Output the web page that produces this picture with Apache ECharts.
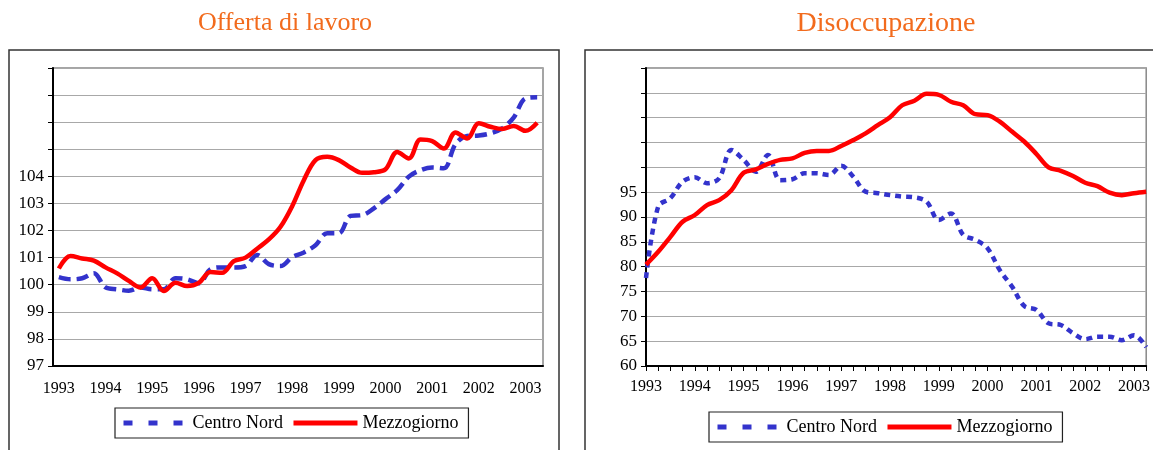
<!DOCTYPE html>
<html>
<head>
<meta charset="utf-8">
<script src="https://cdn.jsdelivr.net/npm/echarts@6/dist/echarts.min.js"></script>
<style>
    body { margin: 0; background: #fff; }
    .wrap { display: flex; width: 1153px; height: 450px; }
    #offerta { width: 576px; height: 450px; }
    #disocc { width: 577px; height: 450px; }
</style>
</head>
<body>
<div class="wrap">
    <div id="offerta"></div>
    <div id="disocc"></div>
</div>
<script>
// anni sull'asse x (dati trimestrali, 1993 T1 - 2003 T2)
const years = ["1993", "1994", "1995", "1996", "1997", "1998", "1999", "2000", "2001", "2002", "2003"];
const quarters = [];
years.forEach((y) => {
    ["T1", "T2", "T3", "T4"].forEach((q) => quarters.push(y + " " + q));
});
quarters.length = 42;

// Offerta di lavoro
const offertaCentroNord = [
    100.28, 100.2, 100.24, 100.42, 99.9, 99.83, 99.78, 99.9, 99.83, 99.83,
    100.24, 100.2, 100.05, 100.57, 100.64, 100.64, 100.69, 101.1, 100.76, 100.69,
    101.02, 101.19, 101.46, 101.9, 101.9, 102.54, 102.57, 102.82, 103.16, 103.49,
    103.99, 104.23, 104.33, 104.3, 105.19, 105.49, 105.51, 105.59, 105.77, 106.18,
    106.88, 106.92,
];
const offertaMezzogiorno = [
    100.6, 101.06, 100.97, 100.89, 100.64, 100.42, 100.14, 99.9, 100.24, 99.77,
    100.07, 99.95, 100.07, 100.47, 100.44, 100.87, 101.0, 101.33, 101.67, 102.14,
    102.9, 103.86, 104.6, 104.72, 104.6, 104.33, 104.13, 104.15, 104.26, 104.9,
    104.66, 105.36, 105.3, 105.03, 105.62, 105.4, 105.96, 105.83, 105.75, 105.86,
    105.68, 105.98,
];

// Disoccupazione
const disoccCentroNord = [
    77.7, 92.1, 93.8, 97.1, 98.0, 96.8, 97.8, 103.5, 101.5, 99.1,
    102.5, 97.4, 97.6, 98.8, 98.8, 98.45, 100.3, 98.1, 95.1, 94.8,
    94.4, 94.1, 93.95, 93.1, 89.4, 90.7, 86.4, 85.4, 83.7, 79.3,
    76.0, 72.1, 71.3, 68.6, 68.25, 66.6, 65.4, 65.9, 65.9, 65.2,
    66.2, 63.8,
];
const disoccMezzogiorno = [
    80.4, 83.0, 86.0, 89.05, 90.4, 92.4, 93.4, 95.4, 98.9, 99.6,
    100.7, 101.5, 101.8, 102.9, 103.3, 103.3, 104.3, 105.5, 106.85, 108.5,
    110.1, 112.5, 113.4, 114.8, 114.6, 113.2, 112.5, 110.7, 110.5, 109.2,
    107.2, 105.2, 102.7, 100.0, 99.3, 98.25, 96.9, 96.2, 94.9, 94.4,
    94.8, 95.1,
];

const serif = "Liberation Serif";
const blue = "#3333cc";
const red = "#ff0000";

function buildOption(cfg) {
    return {
        animation: false,
        textStyle: { fontFamily: serif },
        title: {
            text: cfg.title,
            left: cfg.titleX,
            top: 5,
            textAlign: "center",
            textStyle: {
                fontFamily: serif,
                fontWeight: "normal",
                fontSize: cfg.titleSize,
                color: "#f26b1d",
            },
        },
        graphic: [
            {
                type: "rect",
                shape: { x: 9, y: 50, width: cfg.frameW, height: 430 },
                style: { fill: "none", stroke: "#333", lineWidth: 1.5 },
            },
        ],
        legend: {
            left: cfg.legendX,
            top: cfg.legendY,
            padding: [6, 10, 6, 6],
            borderColor: "#222",
            borderWidth: 1.2,
            itemWidth: 64,
            itemHeight: 12,
            itemGap: 8,
            itemStyle: { opacity: 0 },
            textStyle: { fontFamily: serif, fontSize: 18, color: "#000" },
            data: [
                { name: "Centro Nord", lineStyle: { type: [9, 16], width: 5 } },
                { name: "Mezzogiorno", lineStyle: { width: 5 } },
            ],
        },
        grid: {
            left: cfg.gridLeft,
            right: cfg.gridRight,
            top: 68,
            bottom: 84,
            show: true,
            borderColor: "#888",
            borderWidth: 1.5,
        },
        xAxis: {
            type: "category",
            data: quarters,
            boundaryGap: cfg.boundaryGap,
            axisLine: { lineStyle: { color: "#000", width: 2 } },
            axisTick: { interval: 0, length: 5, lineStyle: { color: "#000" } },
            axisLabel: {
                interval: 3,
                margin: cfg.labelMargin,
                fontFamily: serif,
                fontSize: 16,
                color: "#000",
                formatter: (v) => v.slice(0, 4),
            },
            splitLine: { show: false },
        },
        yAxis: {
            type: "value",
            min: cfg.min,
            max: cfg.max,
            interval: cfg.interval,
            axisLine: { show: true, lineStyle: { color: "#000", width: 2 } },
            axisTick: { show: true, length: 5, lineStyle: { color: "#000" } },
            axisLabel: {
                margin: 9,
                fontFamily: serif,
                fontSize: 17,
                color: "#000",
                formatter: (v) => (v <= cfg.lastLabel ? String(v) : ""),
            },
            splitLine: { lineStyle: { color: "#a8a8a8", width: 1.2 } },
        },
        series: [
            {
                name: "Centro Nord",
                type: "line",
                data: cfg.nord,
                smooth: 0.35,
                symbol: "none",
                lineStyle: { color: blue, width: 4.5, type: cfg.dash },
                itemStyle: { color: blue },
            },
            {
                name: "Mezzogiorno",
                type: "line",
                data: cfg.sud,
                smooth: 0.35,
                symbol: "none",
                lineStyle: { color: red, width: 4.5 },
                itemStyle: { color: red },
            },
        ],
    };
}

// grafico a sinistra
const chart1 = echarts.init(document.getElementById("offerta"));
chart1.setOption(
    buildOption({
        title: "Offerta di lavoro",
        titleX: 280,
        titleSize: 26,
        frameW: 550,
        legendX: 115,
        legendY: 408,
        gridLeft: 53,
        gridRight: 33,
        boundaryGap: true,
        labelMargin: 15,
        min: 97,
        max: 108,
        interval: 1,
        lastLabel: 104,
        dash: [12, 6],
        nord: offertaCentroNord,
        sud: offertaMezzogiorno,
    })
);

// grafico a destra
const chart2 = echarts.init(document.getElementById("disocc"));
chart2.setOption(
    buildOption({
        title: "Disoccupazione",
        titleX: 305,
        titleSize: 28,
        frameW: 600,
        legendX: 133,
        legendY: 412,
        gridLeft: 70,
        gridRight: 6,
        boundaryGap: false,
        labelMargin: 13,
        min: 60,
        max: 120,
        interval: 5,
        lastLabel: 95,
        dash: [6, 5],
        nord: disoccCentroNord,
        sud: disoccMezzogiorno,
    })
);
</script>
</body>
</html>
